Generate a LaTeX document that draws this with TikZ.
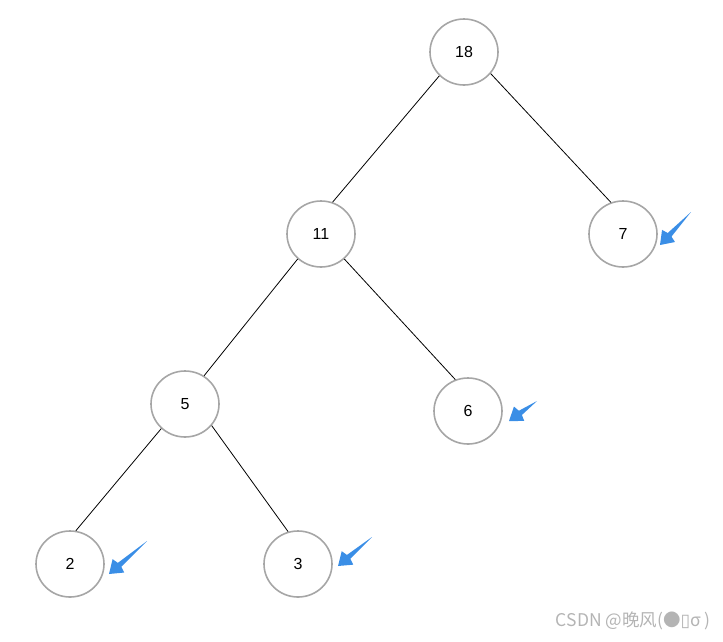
\documentclass[tikz,border=0pt]{standalone}
\usepackage{fontspec}
\setmainfont{Liberation Sans}
\newfontfamily\cjk{Noto Sans CJK SC}
\newfontfamily\dejavu{DejaVu Sans}
\usetikzlibrary{calc,shapes.geometric}
\definecolor{ringgray}{HTML}{A6A6A6}
\definecolor{arrowblue}{HTML}{3A8EE6}
\definecolor{markgray}{HTML}{B4B4B4}
\tikzset{
  treenode/.style={draw=ringgray, line width=1.6pt, ellipse, minimum width=68pt, minimum height=66pt, inner sep=0pt, font=\fontsize{16}{18}\selectfont},
  treeedge/.style={draw=black, line width=0.8pt},
}
\newcommand\bluearrow[2]{%
  \coordinate (H) at ($(#2)!14pt!(#1)$);
  \fill[arrowblue] (#1) -- ($(H)!2.6pt!90:(#1)$) -- ($(H)!9pt!100:(#1)$) -- (#2)
    -- ($(H)!9pt!-100:(#1)$) -- ($(H)!2.6pt!-90:(#1)$) -- cycle;
}
\begin{document}
\begin{tikzpicture}[x=1pt,y=-1pt]
\useasboundingbox (0,0) rectangle (723,641);
\node[treenode] (n18) at (464,52) {18};
\node[treenode] (n11) at (321,234) {11};
\node[treenode] (n7) at (623,234) {7};
\node[treenode] (n5) at (185,404) {5};
\node[treenode] (n6) at (468,411) {6};
\node[treenode] (n2) at (70,564) {2};
\node[treenode] (n3) at (298,564) {3};
\draw[treeedge] (n18.224) -- (n11.70);
\draw[treeedge] (n18.321) -- (n7.111);
\draw[treeedge] (n11.227) -- (n5.56);
\draw[treeedge] (n11.313) -- (n6.112);
\draw[treeedge] (n5.226) -- (n2.80);
\draw[treeedge] (n5.321) -- (n3.107);
\coordinate (t7) at (691,212); \coordinate (p7) at (660,245);
\coordinate (t6) at (537,401); \coordinate (p6) at (509,421);
\coordinate (t2) at (147,541); \coordinate (p2) at (109,574);
\coordinate (t3) at (372,537); \coordinate (p3) at (338,566);
\bluearrow{t7}{p7}
\bluearrow{t6}{p6}
\bluearrow{t2}{p2}
\bluearrow{t3}{p3}
\node[anchor=east, text=markgray, inner sep=0pt, font=\cjk\fontsize{17.5}{19}\selectfont] (wm) at (711,621) {CSDN @晚风(●{\dejavu ▯}σ )};
\end{tikzpicture}
\end{document}
